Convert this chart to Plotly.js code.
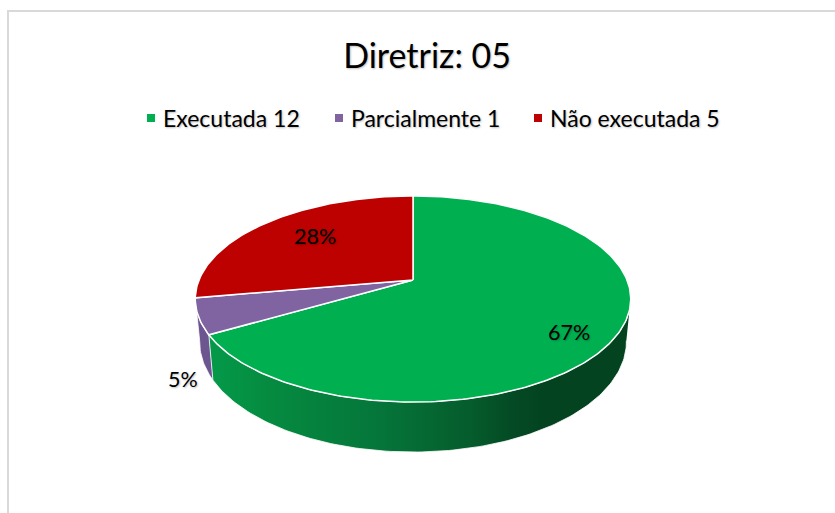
<!DOCTYPE html>
<html>
<head>
<meta charset="utf-8">
<script src="https://cdn.plot.ly/plotly-3.0.1.min.js"></script>
<style>
html,body{margin:0;padding:0;background:#fff;overflow:hidden}
.legendsymbols{transform:translateX(8px)}
</style>
</head>
<body>
<div id="chart" style="width:835px;height:513px"></div>
<script>
const categories = ["Executada 12", "Parcialmente 1", "Não executada 5"];
const values = [12, 1, 5];
const percentLabels = ["67%", "5%", "28%"];
const topColors = ["#00b050", "#8064a2", "#bd0000"];
const titleText = "Diretriz: 05";

// Perspective view of the disc, in pixel units of the hidden axes
const view = {cx: 413, cy: 280, a: 214, b: 99.5, k: 0.1845,
               floorScaleX: 0.98, floorScaleY: 1.07, floorShift: 41.5};
const labelSpots = [[569, 332], [183, 379], [315, 236]];
const legendTextLeft = [164, 352, 551];
const legendKeyGap = 41;
const FONT = "Lato, Carlito, Calibri, sans-serif";
const SHADOW = "1px 1px 2px rgba(0,0,0,0.25)";

function rim(deg, floor) {
  const t = deg * Math.PI / 180, u = Math.sin(t), v = Math.cos(t);
  const d = 1 + view.k * v;
  const X = view.a * u / d, Y = -view.b * v / d;
  return floor
    ? [view.cx + X * view.floorScaleX, view.cy + Y * view.floorScaleY + view.floorShift]
    : [view.cx + X, view.cy + Y];
}
function arc(from, to, floor) {
  const n = Math.max(2, Math.ceil(Math.abs(to - from))), pts = [];
  for (let i = 0; i <= n; i++) pts.push(rim(from + (to - from) * i / n, floor));
  return pts;
}
const total = values.reduce((s, v) => s + v, 0);
let run = 0;
const spans = values.map(v => { const s = run; run += v / total * 360; return [s, run]; });

function poly(pts, extra) {
  return Object.assign({
    x: pts.map(p => p[0]), y: pts.map(p => p[1]), type: "scatter", mode: "lines",
    fill: "toself", hoverinfo: "skip", showlegend: false
  }, extra);
}
function wall(from, to, extra) {
  return poly(arc(from, to, false).concat(arc(to, from, true)), extra);
}

const visibleFrontStart = 100;
const traces = [
  wall(spans[0][1], spans[1][1], {fillcolor: "#6d5690", line: {color: "#ffffff", width: 0.8}}),
  wall(visibleFrontStart, spans[0][1], {
    fillcolor: "#0a9a48",
    fillgradient: {type: "horizontal", colorscale: [
      [0, "#049a49"], [0.15, "#058a40"], [0.4, "#05763a"], [0.62, "#055c2c"],
      [0.72, "#044a24"], [0.8, "#03431f"], [1, "#03431f"]]},
    line: {color: "#ffffff", width: 0.8}
  })
];
spans.forEach((s, i) => {
  const pts = [[view.cx, view.cy]].concat(arc(s[0], s[1], false), [[view.cx, view.cy]]);
  traces.push(poly(pts, {fillcolor: topColors[i], line: {color: "#ffffff", width: 1.5}}));
});
categories.forEach((c, i) => traces.push({
  x: [null], y: [null], type: "scatter", mode: "markers", name: c, hoverinfo: "skip",
  showlegend: true, legend: i === 0 ? "legend" : "legend" + (i + 1),
  marker: {symbol: "square", size: 8, color: topColors[i]}
}));

const layout = {
  width: 835, height: 513, autosize: false,
  margin: {l: 0, r: 0, t: 0, b: 0},
  paper_bgcolor: "#ffffff", plot_bgcolor: "#ffffff",
  showlegend: true,
  xaxis: {range: [0, 835], visible: false, fixedrange: true},
  yaxis: {range: [513, 0], visible: false, fixedrange: true},
  title: {text: titleText, x: 0.5115, xanchor: "center", y: 0.891, yanchor: "middle",
          font: {family: FONT, size: 34, color: "#000000", shadow: SHADOW}},
  shapes: [
    {type: "line", xref: "paper", yref: "paper", x0: 8/835, x1: 1, y0: 1 - 11/513, y1: 1 - 11/513,
     line: {color: "#d9d9d9", width: 2}},
    {type: "line", xref: "paper", yref: "paper", x0: 8/835, x1: 8/835, y0: 0, y1: 1 - 10/513,
     line: {color: "#d9d9d9", width: 2}}
  ],
  annotations: percentLabels.map((t, i) => ({
    x: labelSpots[i][0], y: labelSpots[i][1], text: t, showarrow: false,
    xanchor: "center", yanchor: "middle",
    font: {family: FONT, size: 21.5, color: "#000000", shadow: SHADOW}
  }))
};
legendTextLeft.forEach((left, i) => {
  layout[i === 0 ? "legend" : "legend" + (i + 1)] = {
    orientation: "h", x: (left - legendKeyGap) / 835, xanchor: "left", y: 0.77, yanchor: "middle",
    font: {family: FONT, size: 23, color: "#000000", shadow: SHADOW},
    itemclick: false, itemdoubleclick: false, bgcolor: "rgba(0,0,0,0)"
  };
});
Plotly.newPlot("chart", traces, layout, {displayModeBar: false, staticPlot: true});
</script>
</body>
</html>
